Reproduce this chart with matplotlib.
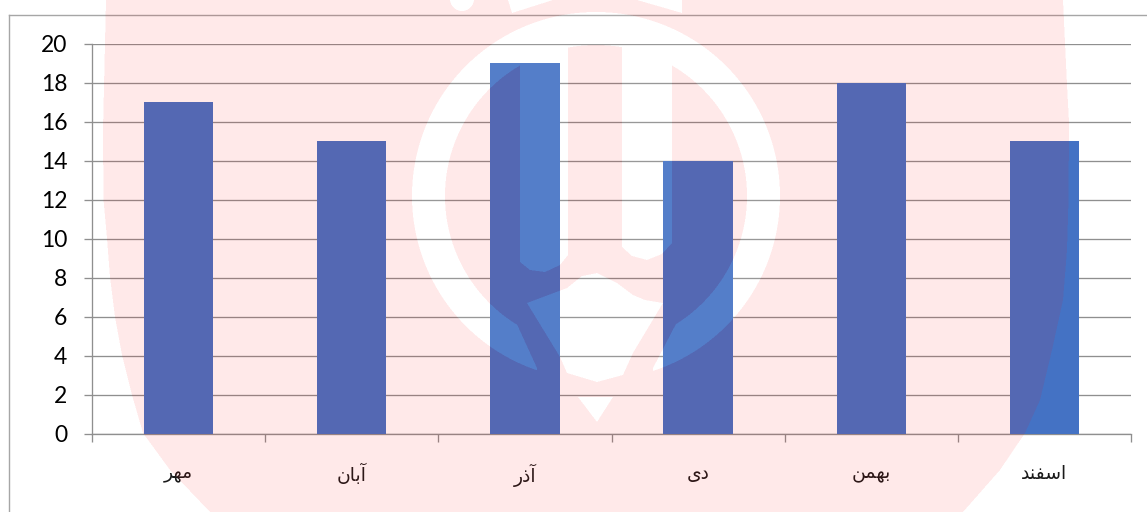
"""Monthly bar chart with a faint emblem watermark over it."""

import matplotlib

matplotlib.use("Agg")
import matplotlib.pyplot as plt
import numpy as np
from matplotlib.lines import Line2D
from matplotlib.path import Path

WIDTH, HEIGHT = 1147, 512

MONTHS = ["مهر", "آبان", "آذر", "دی", "بهمن", "اسفند"]
VALUES = [17, 15, 19, 14, 18, 15]
Y_TICKS = [0, 2, 4, 6, 8, 10, 12, 14, 16, 18, 20]

BAR_COLOR = "#4472C4"
GRID_COLOR = "#8F8F8F"
FRAME_COLOR = "#A6A6A6"

# isolated, final, initial, medial forms for the letters used in the labels
FORMS = {
    "م": "\uFEE1\uFEE2\uFEE3\uFEE4",
    "ه": "\uFEE9\uFEEA\uFEEB\uFEEC",
    "ب": "\uFE8F\uFE90\uFE91\uFE92",
    "ن": "\uFEE5\uFEE6\uFEE7\uFEE8",
    "ی": "\uFBFC\uFBFD\uFBFE\uFBFF",
    "س": "\uFEB1\uFEB2\uFEB3\uFEB4",
    "ف": "\uFED1\uFED2\uFED3\uFED4",
    "ر": "\uFEAD\uFEAE",
    "ذ": "\uFEAB\uFEAC",
    "د": "\uFEA9\uFEAA",
    "ا": "\uFE8D\uFE8E",
    "آ": "\uFE81\uFE82",
}


def shape_persian(word):
    """Join letters and reverse them, since matplotlib draws left to right."""
    shaped = []
    joined = False
    for i, letter in enumerate(word):
        forms = FORMS[letter]
        next_exists = i + 1 < len(word)
        joins_next = len(forms) == 4 and next_exists
        if joined and joins_next:
            shaped.append(forms[3])
        elif joined:
            shaped.append(forms[1])
        elif joins_next:
            shaped.append(forms[2])
        else:
            shaped.append(forms[0])
        joined = joins_next
    return "".join(reversed(shaped))


def polygon_mask(xs, ys, points):
    """Boolean mask of the grid points inside a polygon given in pixels."""
    grid = np.column_stack([xs.ravel(), ys.ravel()])
    return Path(points + [points[0]]).contains_points(grid).reshape(xs.shape)


def build_watermark():
    """Rasterize the emblem as an RGBA image: red shield, white cut-outs."""
    scale = 2
    xs, ys = np.meshgrid(
        (np.arange(WIDTH * scale) + 0.5) / scale,
        (np.arange(HEIGHT * scale) + 0.5) / scale,
    )

    left_y = [0, 130, 200, 238, 277, 317, 355, 395, 433, 470, 512]
    left_x = [106, 103, 103.5, 107, 110, 115, 122, 132, 143, 170, 210]
    right_y = [0, 43, 85, 122, 200, 250, 300, 350, 400, 433, 470, 512]
    right_x = [1063, 1065, 1067, 1069, 1068.5, 1067, 1063, 1052, 1040, 1025, 1000, 963]
    shield = (xs >= np.interp(ys, left_y, left_x)) & (
        xs <= np.interp(ys, right_y, right_x)
    )

    radius = np.hypot(xs - 596, ys - 196)
    gap = polygon_mask(
        xs, ys,
        [(515, 320), (537, 368), (537, 400), (653, 400), (653, 368), (677, 322), (596, 250)],
    )
    white = (radius >= 151) & (radius <= 184) & ~gap
    white |= np.hypot(xs - 462, ys + 1) <= 12

    shapes = [
        # the two vertical bands
        [(520, 30), (568, 30), (568, 255), (560, 265), (545, 272), (530, 270), (520, 262)],
        [(622, 30), (672, 30), (672, 243), (662, 254), (647, 260), (632, 256), (622, 247)],
        # centre blob
        [(597, 273), (582, 276), (567, 288), (527, 303), (560, 357), (567, 373), (597, 382),
         (623, 375), (633, 353), (663, 303), (645, 300), (633, 295), (617, 283)],
        # drop below the blob
        [(578, 397), (613, 397), (597, 422)],
        # wedges above the ring
        [(508, 0), (553, 0), (512, 13)],
        [(637, 0), (682, 0), (682, 13)],
    ]
    for points in shapes:
        white |= polygon_mask(xs, ys, points)

    # both colours sit at the same low opacity over the chart
    alpha = 0.09 * (shield | white).astype(float)
    image = np.zeros((HEIGHT * scale, WIDTH * scale, 4))
    image[..., 0] = 1.0
    image[..., 1] = white.astype(float)
    image[..., 2] = white.astype(float)
    image[..., 3] = alpha

    # premultiplied average down to the output size
    image[..., :3] *= alpha[..., None]
    small = image.reshape(HEIGHT, scale, WIDTH, scale, 4).mean(axis=(1, 3))
    safe = np.where(small[..., 3] > 0, small[..., 3], 1.0)
    small[..., :3] /= safe[..., None]
    return small


def main():
    plt.rcParams["font.family"] = ["Lato", "DejaVu Sans"]
    fig = plt.figure(figsize=(WIDTH / 100, HEIGHT / 100), dpi=100, facecolor="white")
    ax = fig.add_axes(
        [92 / WIDTH, (HEIGHT - 433.5) / HEIGHT, 1039 / WIDTH, 389.5 / HEIGHT]
    )
    ax.set_facecolor("none")

    positions = np.arange(len(MONTHS))
    ax.bar(positions, VALUES, width=0.4, color=BAR_COLOR, zorder=3)

    ax.set_xlim(-0.5, len(MONTHS) - 0.5)
    ax.set_ylim(0, 20)
    ax.set_yticks(Y_TICKS)
    ax.set_xticks(np.arange(len(MONTHS) + 1) - 0.5)
    ax.set_xticklabels([])
    ax.set_xticks(positions, minor=True)
    ax.set_xticklabels(
        [shape_persian(m) for m in MONTHS],
        minor=True,
        family="DejaVu Sans",
        fontsize=13.5,
        color="#1A1A1A",
    )

    ax.grid(axis="y", color=GRID_COLOR, linewidth=0.95, zorder=1)
    ax.set_axisbelow(True)
    ax.tick_params(axis="y", length=5.8, width=0.95, color=GRID_COLOR, pad=12,
                   labelsize=16.5, labelcolor="black")
    ax.tick_params(axis="x", which="major", length=5.8, width=0.95, color=GRID_COLOR)
    ax.tick_params(axis="x", which="minor", length=0, pad=22)
    for side in ("top", "right"):
        ax.spines[side].set_visible(False)
    for side in ("left", "bottom"):
        ax.spines[side].set_color(GRID_COLOR)
        ax.spines[side].set_linewidth(0.95)

    # chart frame, cut off by the right and bottom of the picture
    to_fig = lambda px: px / WIDTH
    top = 1 - 14.5 / HEIGHT
    fig.add_artist(Line2D([to_fig(8.5), to_fig(8.5)], [0, top], color=FRAME_COLOR, linewidth=1.0))
    fig.add_artist(Line2D([to_fig(8.5), 1], [top, top], color=FRAME_COLOR, linewidth=1.0))

    fig.figimage(build_watermark(), xo=0, yo=0, origin="upper", zorder=10, resize=False)

    fig.savefig("out.png", dpi=100)


if __name__ == "__main__":
    main()
